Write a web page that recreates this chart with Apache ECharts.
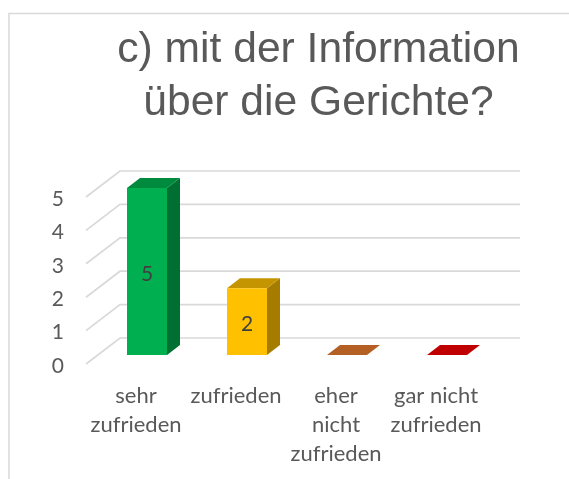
<!DOCTYPE html>
<html><head><meta charset="utf-8">
<style>html,body{margin:0;padding:0;background:#fff}#c{width:569px;height:479px}</style>
<script src="https://cdn.jsdelivr.net/npm/echarts@6/dist/echarts.min.js"></script>
</head><body><div id="c"></div>
<script>
const categories = ['sehr\nzufrieden','zufrieden','eher\nnicht\nzufrieden','gar nicht\nzufrieden'];
const values = [5,2,0,0];
const valueLabels = ['5','2','',''];
const yTicks = [0,1,2,3,4,5];
const frontColors = ['#00B050','#FFC000','#B46024','#C00000'];
const topColors = ['#008A3E','#C49500','#B46024','#C00000'];
const sideColors = ['#006F32','#A67C00','#B46024','#C00000'];
const DX=34, DY=26, BX=13, BY=10, BASE=9, W=40;
const chart = echarts.init(document.getElementById('c'),null,{renderer:'canvas'});
chart.setOption({
 animation:false,
 backgroundColor:'#fff',
 title:{text:'c) mit der Information\nüber die Gerichte?',left:313.5,top:19,textAlign:'center',
  textStyle:{fontFamily:'Liberation Sans',fontSize:42.6,fontWeight:'normal',color:'#595959',lineHeight:52.5}},
 grid:{left:97,top:197,width:400,height:167,containLabel:false},
 xAxis:{type:'category',data:categories,axisLine:{show:false},axisTick:{show:false},
  axisLabel:{interval:0,margin:17,padding:[0,22,0,0],fontFamily:'Lato',fontSize:22,color:'#595959',lineHeight:29,verticalAlign:'top'}},
 yAxis:{type:'value',min:0,max:5,interval:1,axisLine:{show:false},axisTick:{show:false},splitLine:{show:false},
  axisLabel:{margin:33,verticalAlign:'top',lineHeight:24,padding:[-10,0,0,0],fontFamily:'Lato',fontSize:21,color:'#595959'}},
 series:[
  {type:'custom',data:yTicks.map(v=>[v]),silent:true,z:1,
   renderItem(p,api){
    const pt=api.coord([0,api.value(0)]);
    const y=pt[1], x0=p.coordSys.x-11, x1=p.coordSys.x+p.coordSys.width+23;
    return {type:'polyline',shape:{points:[[x0,y],[x0+DX,y-DY],[x1,y-DY]]},
      style:{fill:null,stroke:'#D9D9D9',lineWidth:1.7}};
   }},
  {type:'custom',data:values.map((v,i)=>[i,v]),z:3,silent:true,
   renderItem(p,api){
    const i=api.value(0),v=api.value(1);
    const a=api.coord([i,0]),b=api.coord([i,v]);
    const l=a[0]-W/2,r=a[0]+W/2,y0=a[1]-BASE,y1=b[1]-BASE;
    return {type:'group',children:[
     {type:'polygon',shape:{points:[[r,y1],[r+BX,y1-BY],[r+BX,y0-BY],[r,y0]]},style:{fill:sideColors[i]}},
     {type:'polygon',shape:{points:[[l,y1],[l+BX,y1-BY],[r+BX,y1-BY],[r,y1]]},style:{fill:topColors[i]}},
     {type:'rect',shape:{x:l,y:y1,width:W,height:y0-y1},style:{fill:frontColors[i]}},
     {type:'text',x:a[0],y:(y0+y1)/2+3,style:{text:valueLabels[i],align:'center',verticalAlign:'middle',
       fontFamily:'Lato',fontSize:21,fill:'#404040'}}
    ]};
   }}
 ],
 graphic:[
  {type:'rect',silent:true,shape:{x:9,y:13.5,width:600,height:520},style:{fill:null,stroke:'#D9D9D9',lineWidth:1.5}}
 ]
});
</script></body></html>
